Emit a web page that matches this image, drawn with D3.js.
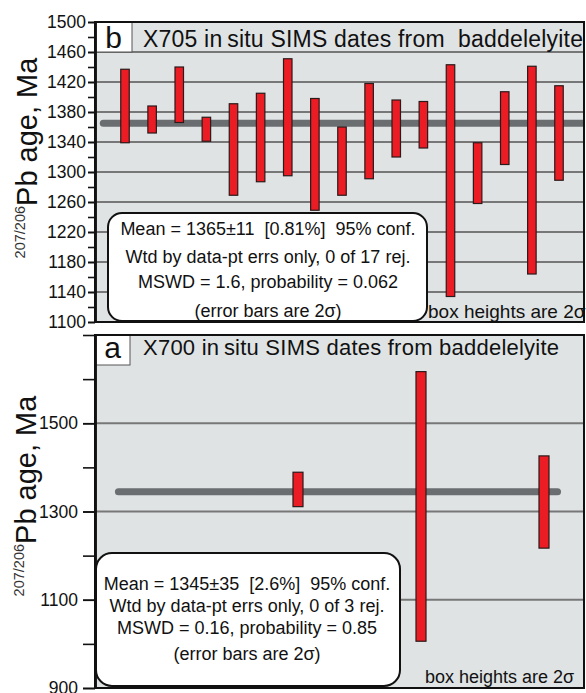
<!DOCTYPE html>
<html>
<head>
<meta charset="utf-8">
<script src="https://cdn.jsdelivr.net/npm/d3@7"></script>
<style>
  body { margin: 0; background: #fff; }
  svg { display: block; }
  text { font-family: "Liberation Sans", Arial, Helvetica, sans-serif; fill: #111; white-space: pre; }
</style>
</head>
<body>
<svg id="chart" width="586" height="693"></svg>
<script>
// Panel b: X705 spot ages, lower / upper 2σ limits (Ma)
const x705Lo = [1339, 1352, 1366, 1341, 1269, 1287, 1295, 1249, 1269, 1291, 1320, 1332, 1134, 1258, 1310, 1164, 1289];
const x705Hi = [1437, 1388, 1440, 1373, 1391, 1405, 1451, 1398, 1360, 1418, 1396, 1394, 1443, 1339, 1407, 1441, 1415];
const x705Mean = 1365;
const x705Major = [1100, 1140, 1180, 1220, 1260, 1300, 1340, 1380, 1420, 1460, 1500];
const x705Minor = d3.range(1100, 1501, 20);
const x705Stats = [
  "Mean = 1365\u00b111  [0.81%]  95% conf.",
  "Wtd by data-pt errs only, 0 of 17 rej.",
  "MSWD = 1.6, probability = 0.062",
  "(error bars are 2\u03c3)"
];

// Panel a: X700 spot ages, lower / upper 2σ limits (Ma)
const x700Lo = [1311, 1006, 1217];
const x700Hi = [1389, 1617, 1426];
const x700Mean = 1345;
const x700Major = [900, 1100, 1300, 1500];
const x700Minor = d3.range(900, 1701, 100);
const x700Stats = [
  "Mean = 1345\u00b135  [2.6%]  95% conf.",
  "Wtd by data-pt errs only, 0 of 3 rej.",
  "MSWD = 0.16, probability = 0.85",
  "(error bars are 2\u03c3)"
];

const svg = d3.select("#chart");

function drawPanel(cfg) {
  const g = svg.append("g");
  const { left, right, top, bottom } = cfg;
  const y = d3.scaleLinear().domain(cfg.yDomain).range([bottom, top]);
  const x = d3.scaleLinear().domain([1, cfg.lo.length]).range(cfg.xRange);

  const clipId = "clip-" + cfg.tag;
  g.append("clipPath").attr("id", clipId)
    .append("rect").attr("x", left).attr("y", top)
    .attr("width", right - left).attr("height", bottom - top);

  // plot background
  g.append("rect").attr("x", left).attr("y", top)
    .attr("width", right - left).attr("height", bottom - top)
    .attr("fill", "#dfe3e4");

  // horizontal grid at labelled ticks
  g.append("g").selectAll("line")
    .data(cfg.grid).join("line")
    .attr("x1", left).attr("x2", right)
    .attr("y1", d => y(d)).attr("y2", d => y(d))
    .attr("stroke", "#777").attr("stroke-width", 1.8);

  // weighted mean bar
  g.append("line")
    .attr("clip-path", `url(#${clipId})`)
    .attr("x1", x(cfg.meanFrom)).attr("x2", x(cfg.meanTo))
    .attr("y1", y(cfg.mean)).attr("y2", y(cfg.mean))
    .attr("stroke", "#6b6e70").attr("stroke-width", 7)
    .attr("stroke-linecap", "round");

  // 2σ error boxes
  const idx = d3.range(cfg.lo.length);
  g.append("g").selectAll("rect")
    .data(idx).join("rect")
    .attr("x", i => x(i + 1) - cfg.barW / 2)
    .attr("width", cfg.barW)
    .attr("y", i => y(cfg.hi[i]))
    .attr("height", i => y(cfg.lo[i]) - y(cfg.hi[i]))
    .attr("fill", "#ec1c24").attr("stroke", "#2a1a1a").attr("stroke-width", 1.2);

  // statistics box
  const b = cfg.box;
  g.append("rect").attr("x", b.x).attr("y", b.y)
    .attr("width", b.w).attr("height", b.h).attr("rx", b.r).attr("ry", b.r)
    .attr("fill", "#fff").attr("stroke", "#111").attr("stroke-width", 2);
  g.append("g").selectAll("text")
    .data(cfg.stats).join("text")
    .attr("x", b.cx).attr("y", (d, i) => b.lines[i])
    .attr("text-anchor", "middle").attr("font-size", b.size)
    .text(d => d);

  g.append("text")
    .attr("x", cfg.note.x).attr("y", cfg.note.y)
    .attr("font-size", cfg.note.size)
    .text("box heights are 2\u03c3");

  // title strip
  g.append("rect").attr("x", left).attr("y", top)
    .attr("width", cfg.letterBox.w).attr("height", cfg.letterBox.h)
    .attr("fill", "#fff").attr("stroke", "#555").attr("stroke-width", 1);
  g.append("text")
    .attr("x", left + cfg.letterBox.w / 2).attr("y", cfg.letterBox.base)
    .attr("text-anchor", "middle").attr("font-size", 30)
    .text(cfg.letter);
  g.append("text")
    .attr("x", cfg.title.x).attr("y", cfg.title.y)
    .attr("font-size", cfg.title.size)
    .attr("textLength", cfg.title.len).attr("lengthAdjust", "spacing")
    .text(cfg.title.text);

  // frame
  g.append("rect").attr("x", left).attr("y", top)
    .attr("width", right - left).attr("height", bottom - top)
    .attr("fill", "none").attr("stroke", "#111").attr("stroke-width", 2);

  // y axis: minor ticks, then labelled ticks
  const minorAxis = d3.axisLeft(y).tickValues(cfg.minor).tickFormat("")
    .tickSize(cfg.tickLen).tickSizeOuter(0);
  const majorAxis = d3.axisLeft(y).tickValues(cfg.major).tickFormat(d3.format("d"))
    .tickSize(cfg.tickLen).tickPadding(cfg.tickPad).tickSizeOuter(0);
  [minorAxis, majorAxis].forEach(ax => {
    const a = g.append("g").attr("transform", `translate(${left},0)`).call(ax);
    a.select(".domain").attr("stroke", "#111").attr("stroke-width", 2.5);
    a.selectAll(".tick line").attr("stroke", "#111").attr("stroke-width", 1.6);
    a.selectAll(".tick text")
      .attr("font-family", '"Liberation Sans", Arial, sans-serif')
      .attr("font-size", 17.5).attr("fill", "#111");
  });

  // rotated axis title
  const t = g.append("text")
    .attr("transform", `translate(${cfg.yTitle.x},${cfg.yTitle.y}) rotate(-90)`)
    .attr("text-anchor", "middle");
  t.append("tspan").attr("font-size", 14.5).attr("fill", "#333").attr("dy", -12).text("207/206");
  t.append("tspan").attr("font-size", 29).attr("dy", 12).text("Pb age, Ma");
}

drawPanel({
  tag: "b", letter: "b",
  left: 95, right: 584, top: 22, bottom: 322,
  yDomain: [1100, 1500], xRange: [125, 559], barW: 8.5,
  lo: x705Lo, hi: x705Hi, mean: x705Mean, meanFrom: 0.2, meanTo: 18.5,
  major: x705Major, minor: x705Minor, grid: x705Major.slice(1, -1),
  tickLen: 7, tickPad: 2,
  stats: x705Stats,
  box: { x: 108, y: 213, w: 319, h: 108, r: 14, cx: 268, size: 18, lines: [235, 263, 288, 317] },
  note: { x: 428, y: 318, size: 19 },
  letterBox: { w: 37, h: 30, base: 48 },
  title: { x: 143, y: 47, size: 23, len: 440, text: "X705 in\u2009situ SIMS dates from  baddelelyite" },
  yTitle: { x: 37, y: 158 }
});

drawPanel({
  tag: "a", letter: "a",
  left: 95, right: 584, top: 335, bottom: 688,
  yDomain: [900, 1700], xRange: [298, 544], barW: 10,
  lo: x700Lo, hi: x700Hi, mean: x700Mean, meanFrom: -0.46, meanTo: 3.11,
  major: x700Major, minor: x700Minor, grid: [1100, 1300, 1500],
  tickLen: 12, tickPad: 5,
  stats: x700Stats,
  box: { x: 96, y: 553, w: 304, h: 133, r: 16, cx: 247, size: 18, lines: [590, 612, 634, 660] },
  note: { x: 425, y: 683, size: 18 },
  letterBox: { w: 35, h: 30, base: 358 },
  title: { x: 143, y: 355, size: 22, len: 416, text: "X700 in\u2009situ SIMS dates from baddelelyite" },
  yTitle: { x: 36, y: 496 }
});
</script>
</body>
</html>
